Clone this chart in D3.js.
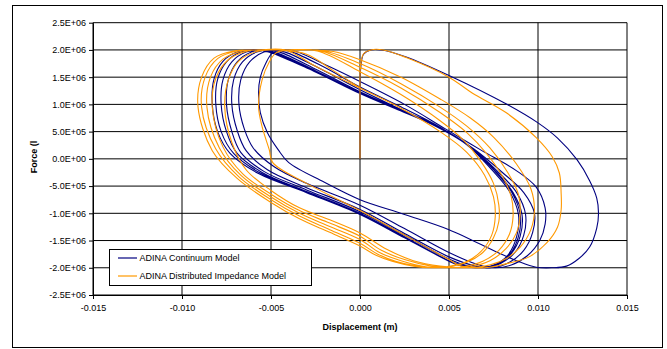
<!DOCTYPE html>
<html>
<head>
<meta charset="utf-8">
<script src="https://cdn.jsdelivr.net/npm/d3@7"></script>
<style>
  html, body { margin: 0; padding: 0; background: #fff; }
  svg { display: block; font-family: "Liberation Sans", Arial, sans-serif; }
</style>
</head>
<body>
<svg id="chart" width="667" height="349"></svg>
<script>
// Axis ticks and labels
const xTicks = [-0.015, -0.010, -0.005, 0.000, 0.005, 0.010, 0.015];
const xTickLabels = ["-0.015", "-0.010", "-0.005", "0.000", "0.005", "0.010", "0.015"];
const yTicks = [-2.5e6, -2.0e6, -1.5e6, -1.0e6, -0.5e6, 0, 0.5e6, 1.0e6, 1.5e6, 2.0e6, 2.5e6];
const yTickLabels = ["-2.5E+06", "-2.0E+06", "-1.5E+06", "-1.0E+06", "-5.0E+05", "0.0E+00",
                     "5.0E+05", "1.0E+06", "1.5E+06", "2.0E+06", "2.5E+06"];

const seriesNames = ["ADINA Continuum Model", "ADINA Distributed Impedance Model"];

// [displacement (m), force (N)]
const continuumModel = [
  [0,0],[0,0.6e6],[0,1.2e6],[0.00005,1.7e6],[0.0002,1.92e6],[0.0006,2.0e6],[0.0012,2.0e6],
  [0.0026,1.87e6],[0.005,1.53e6],[0.0082,1.01e6],[0.0100,0.66e6],[0.0111,0.38e6],[0.0122,-0.02e6],
  [0.0129,-0.40e6],[0.0133,-0.72e6],[0.0134,-1.0e6],[0.0133,-1.27e6],[0.0129,-1.62e6],[0.0123,-1.83e6],
  [0.0116,-1.97e6],[0.0108,-2.0e6],[0.0099,-1.99e6],[0.0088,-1.87e6],[0.0078,-1.73e6],[0.005,-1.30e6],
  [0.0025,-1.02e6],[0,-0.75e6],[-0.002,-0.43e6],[-0.004,-0.07e6],[-0.0046,0.17e6],[-0.0052,0.48e6],
  [-0.0056,0.85e6],[-0.0057,1.2e6],[-0.0056,1.5e6],[-0.0053,1.75e6],[-0.0049,1.95e6],[-0.0043,2.0e6],
  // cycle 2
  [-0.0036,1.97e6],[-0.0017,1.69e6],[0,1.42e6],[0.0025,1.0e6],[0.0048,0.55e6],[0.0068,0.16e6],
  [0.0088,-0.22e6],[0.0099,-0.52e6],[0.0104,-0.9e6],[0.0104,-1.2e6],[0.0101,-1.5e6],[0.0094,-1.78e6],
  [0.0085,-1.95e6],[0.0076,-2.0e6],
  [0.0066,-1.94e6],[0.005,-1.72e6],[0.0025,-1.28e6],[0,-0.85e6],[-0.003,-0.45e6],[-0.0048,-0.15e6],
  [-0.006,0.2e6],[-0.0065,0.55e6],[-0.0068,1.0e6],[-0.0067,1.45e6],[-0.0062,1.78e6],[-0.0054,1.96e6],
  [-0.0045,2.0e6],
  // cycle 3
  [-0.0038,1.96e6],[-0.002,1.68e6],[0,1.32e6],[0.0022,0.97e6],[0.0044,0.6e6],[0.0064,0.18e6],
  [0.008,-0.25e6],[0.0092,-0.62e6],[0.0098,-1.0e6],[0.0097,-1.35e6],[0.0092,-1.68e6],[0.0084,-1.9e6],
  [0.0074,-2.0e6],
  [0.0064,-1.96e6],[0.005,-1.8e6],[0.0025,-1.37e6],[0,-0.93e6],[-0.003,-0.53e6],[-0.0052,-0.2e6],
  [-0.0064,0.15e6],[-0.0069,0.52e6],[-0.0072,1.0e6],[-0.0071,1.45e6],[-0.0066,1.78e6],[-0.0058,1.96e6],
  [-0.0049,2.0e6],
  // cycle 4
  [-0.0042,1.96e6],[-0.0022,1.65e6],[0,1.27e6],[0.0021,0.94e6],[0.0042,0.62e6],[0.0062,0.22e6],
  [0.0077,-0.22e6],[0.0088,-0.62e6],[0.0093,-1.02e6],[0.0092,-1.4e6],[0.0087,-1.72e6],[0.0079,-1.92e6],
  [0.0069,-2.0e6],
  [0.006,-1.96e6],[0.005,-1.84e6],[0.0025,-1.4e6],[0,-0.97e6],[-0.003,-0.57e6],[-0.0054,-0.23e6],
  [-0.0067,0.12e6],[-0.0072,0.5e6],[-0.0075,1.0e6],[-0.0074,1.45e6],[-0.0069,1.78e6],[-0.0061,1.96e6],
  [-0.0052,2.0e6],
  // cycle 5
  [-0.0045,1.96e6],[-0.0024,1.63e6],[0,1.23e6],[0.002,0.94e6],[0.0041,0.64e6],[0.0061,0.25e6],
  [0.0076,-0.22e6],[0.0086,-0.62e6],[0.0091,-1.02e6],[0.009,-1.42e6],[0.0085,-1.74e6],[0.0077,-1.94e6],
  [0.0067,-2.0e6],
  [0.0058,-1.96e6],[0.005,-1.87e6],[0.0025,-1.43e6],[0,-1.0e6],[-0.003,-0.6e6],[-0.0055,-0.25e6],
  [-0.0069,0.1e6],[-0.0075,0.5e6],[-0.0078,1.0e6],[-0.0077,1.45e6],[-0.0072,1.78e6],[-0.0064,1.96e6],
  [-0.0055,2.0e6],
  // cycle 6
  [-0.0048,1.96e6],[-0.0025,1.62e6],[0,1.21e6],[0.002,0.93e6],[0.004,0.65e6],[0.006,0.27e6],
  [0.0075,-0.2e6],[0.0085,-0.6e6],[0.009,-1.02e6],[0.0089,-1.43e6],[0.0084,-1.76e6],[0.0076,-1.95e6],
  [0.0066,-2.0e6],
  [0.0057,-1.96e6],[0.005,-1.87e6],[0.0025,-1.44e6],[0,-1.01e6],[-0.003,-0.61e6],[-0.0056,-0.26e6],
  [-0.0071,0.1e6],[-0.0078,0.5e6],[-0.0081,1.0e6],[-0.008,1.46e6],[-0.0075,1.78e6],[-0.0067,1.96e6],
  [-0.0057,2.0e6],
  // cycle 7
  [-0.005,1.96e6],[-0.0025,1.61e6],[0,1.2e6],[0.002,0.92e6],[0.004,0.64e6],[0.006,0.26e6],
  [0.0074,-0.2e6],[0.0084,-0.6e6],[0.0089,-1.02e6],[0.0088,-1.43e6],[0.0083,-1.77e6],[0.0075,-1.95e6],
  [0.0065,-2.0e6],
  [0.0056,-1.96e6],[0.005,-1.88e6],[0.0025,-1.45e6],[0,-1.02e6],[-0.003,-0.62e6],[-0.0057,-0.27e6],
  [-0.0073,0.1e6],[-0.008,0.5e6],[-0.0083,1.0e6],[-0.0082,1.47e6],[-0.0077,1.79e6],[-0.0069,1.96e6],
  [-0.0059,2.0e6],
  [-0.0051,1.96e6],[-0.0026,1.61e6],[0,1.2e6],[0.002,0.92e6]
];

const impedanceModel = [
  [0,0],[0,0.6e6],[0,1.2e6],[0.00003,1.7e6],[0.0002,1.93e6],[0.0006,2.0e6],[0.0013,2.0e6],
  [0.0026,1.86e6],[0.005,1.5e6],[0.0063,1.21e6],[0.0082,0.85e6],[0.0099,0.39e6],[0.0108,0.04e6],
  [0.0112,-0.26e6],[0.0113,-0.63e6],[0.0113,-0.94e6],[0.0111,-1.25e6],[0.0105,-1.54e6],[0.0095,-1.8e6],
  [0.0084,-1.91e6],[0.0073,-1.99e6],[0.0064,-2.0e6],
  [0.0056,-1.96e6],[0.005,-1.85e6],[0.0025,-1.4e6],[0,-0.95e6],[-0.003,-0.45e6],[-0.0049,-0.07e6],
  [-0.0051,0.17e6],[-0.0055,0.59e6],[-0.0057,0.96e6],[-0.0055,1.45e6],[-0.0051,1.78e6],[-0.0047,1.95e6],
  [-0.004,2.0e6],[-0.003,2.0e6],
  // cycle 2
  [-0.0015,1.97e6],[0,1.82e6],[0.0023,1.5e6],[0.0045,1.1e6],[0.0062,0.75e6],[0.0075,0.4e6],
  [0.0088,-0.1e6],[0.0096,-0.55e6],[0.0098,-0.95e6],[0.0096,-1.3e6],[0.009,-1.62e6],[0.0081,-1.85e6],
  [0.007,-1.97e6],[0.006,-2.0e6],
  [0.0045,-1.97e6],[0.003,-1.87e6],[0.0015,-1.66e6],[0,-1.36e6],[-0.0017,-1.12e6],[-0.0034,-0.9e6],
  [-0.005,-0.58e6],[-0.0064,-0.2e6],[-0.0072,0.3e6],[-0.0076,0.95e6],[-0.0074,1.45e6],[-0.0068,1.8e6],
  [-0.0058,1.97e6],[-0.0048,2.0e6],[-0.0035,2.0e6],
  // cycle 3
  [-0.002,1.98e6],[0,1.75e6],[0.0023,1.38e6],[0.0045,0.95e6],[0.006,0.6e6],[0.0073,0.2e6],
  [0.0083,-0.25e6],[0.0089,-0.65e6],[0.009,-1.0e6],[0.0088,-1.35e6],[0.0082,-1.65e6],[0.0073,-1.87e6],
  [0.0062,-1.98e6],[0.0052,-2.0e6],
  [0.004,-1.97e6],[0.0025,-1.85e6],[0.0012,-1.68e6],[0,-1.42e6],[-0.0017,-1.18e6],[-0.0034,-0.95e6],
  [-0.005,-0.65e6],[-0.0066,-0.27e6],[-0.0077,0.22e6],[-0.0083,0.95e6],[-0.0081,1.48e6],[-0.0074,1.82e6],
  [-0.0063,1.98e6],[-0.0052,2.0e6],[-0.0038,2.0e6],
  // cycle 4
  [-0.0022,1.98e6],[0,1.68e6],[0.0023,1.3e6],[0.0045,0.85e6],[0.006,0.48e6],[0.0071,0.1e6],
  [0.008,-0.32e6],[0.0085,-0.7e6],[0.0086,-1.05e6],[0.0084,-1.38e6],[0.0078,-1.68e6],[0.0069,-1.88e6],
  [0.0058,-1.98e6],[0.0048,-2.0e6],
  [0.0037,-1.98e6],[0.0023,-1.87e6],[0.0011,-1.72e6],[0,-1.48e6],[-0.0017,-1.24e6],[-0.0034,-1.0e6],
  [-0.005,-0.7e6],[-0.0067,-0.3e6],[-0.0079,0.2e6],[-0.0086,0.95e6],[-0.0084,1.5e6],[-0.0077,1.83e6],
  [-0.0066,1.98e6],[-0.0055,2.0e6],[-0.004,2.0e6],
  // cycle 5
  [-0.0024,1.98e6],[0,1.6e6],[0.0023,1.18e6],[0.0045,0.7e6],[0.0058,0.35e6],[0.0068,-0.05e6],
  [0.0075,-0.45e6],[0.0078,-0.85e6],[0.0078,-1.15e6],[0.0075,-1.45e6],[0.0069,-1.72e6],[0.006,-1.9e6],
  [0.005,-1.98e6],[0.0041,-2.0e6],
  [0.0032,-1.97e6],[0.002,-1.88e6],[0.001,-1.75e6],[0,-1.55e6],[-0.0017,-1.3e6],[-0.0034,-1.05e6],
  [-0.005,-0.75e6],[-0.0068,-0.33e6],[-0.0081,0.18e6],[-0.0089,0.95e6],[-0.0087,1.5e6],[-0.008,1.84e6],
  [-0.0069,1.98e6],[-0.0057,2.0e6],[-0.0042,2.0e6],
  // cycle 6
  [-0.0025,1.7e6],[0,1.3e6],[0.0023,0.93e6],[0.0045,0.5e6],[0.006,0.12e6],[0.007,-0.3e6],
  [0.0075,-0.7e6],[0.0076,-1.05e6],[0.0074,-1.4e6],[0.0068,-1.7e6],[0.0059,-1.9e6],[0.0049,-1.98e6],
  [0.004,-2.0e6],
  [0.003,-1.97e6],[0.0018,-1.88e6],[0.0009,-1.77e6],[0,-1.6e6],[-0.0017,-1.35e6],[-0.0034,-1.1e6],
  [-0.005,-0.8e6],[-0.0069,-0.36e6],[-0.0083,0.15e6],[-0.0091,0.95e6],[-0.0089,1.5e6],[-0.0082,1.85e6],
  [-0.0071,1.98e6],[-0.0059,2.0e6],[-0.0045,2.0e6],
  [-0.003,1.92e6],[-0.0015,1.62e6],[0,1.3e6]
];

const seriesData = [continuumModel, impedanceModel];
const seriesColors = ["#000080", "#FF9900"];

const svg = d3.select("#chart");

// chart frame
svg.append("rect")
  .attr("x", 12.5).attr("y", 5.5)
  .attr("width", 650).attr("height", 342)
  .attr("fill", "#fff").attr("stroke", "#000").attr("stroke-width", 1);

const plot = { left: 93, right: 627, top: 22.7, bottom: 295 };

const x = d3.scaleLinear().domain([-0.015, 0.015]).range([plot.left, plot.right]);
const y = d3.scaleLinear().domain([-2.5e6, 2.5e6]).range([plot.bottom, plot.top]);

// gridlines
const grid = svg.append("g").attr("stroke", "#000").attr("stroke-width", 1);
grid.selectAll("line.h").data(yTicks).join("line")
  .attr("class", "h")
  .attr("x1", plot.left).attr("x2", plot.right)
  .attr("y1", d => y(d)).attr("y2", d => y(d));
grid.selectAll("line.v").data(xTicks).join("line")
  .attr("class", "v")
  .attr("x1", d => x(d)).attr("x2", d => x(d))
  .attr("y1", plot.top).attr("y2", plot.bottom);

// axes
const xAxis = d3.axisBottom(x).tickValues(xTicks)
  .tickFormat((d, i) => xTickLabels[i]).tickSize(4).tickSizeOuter(0).tickPadding(6);
const yAxis = d3.axisLeft(y).tickValues(yTicks)
  .tickFormat((d, i) => yTickLabels[i]).tickSize(4).tickSizeOuter(0).tickPadding(3);

const gx = svg.append("g").attr("transform", `translate(0,${plot.bottom})`).call(xAxis);
const gy = svg.append("g").attr("transform", `translate(${plot.left},0)`).call(yAxis);
[gx, gy].forEach(g => {
  g.select(".domain").attr("stroke", "#000");
  g.selectAll(".tick line").attr("stroke", "#000");
  g.selectAll(".tick text").attr("fill", "#000")
    .style("font-size", "9px").style("font-family", '"Liberation Sans", Arial, sans-serif');
});

// series
const line = d3.line()
  .x(d => x(d[0]))
  .y(d => y(d[1]))
  .curve(d3.curveCatmullRom.alpha(0.5));

svg.append("g").selectAll("path.series").data(seriesData).join("path")
  .attr("class", "series")
  .attr("d", d => line(d))
  .attr("fill", "none")
  .attr("stroke", (d, i) => seriesColors[i])
  .attr("stroke-width", 1.1)
  .attr("stroke-linejoin", "round");

// axis titles
svg.append("text")
  .attr("x", (plot.left + plot.right) / 2).attr("y", 330)
  .attr("text-anchor", "middle")
  .style("font-size", "9px").style("font-weight", "bold")
  .text("Displacement (m)");

svg.append("text")
  .attr("transform", "translate(37,157) rotate(-90)")
  .attr("text-anchor", "middle")
  .style("font-size", "9px").style("font-weight", "bold")
  .text("Force (l");

// legend
const legend = svg.append("g").attr("transform", "translate(109.5,249.5)");
legend.append("rect")
  .attr("width", 202).attr("height", 36)
  .attr("fill", "#fff").attr("stroke", "#000").attr("stroke-width", 1);
const items = legend.selectAll("g.item").data(seriesNames).join("g")
  .attr("class", "item")
  .attr("transform", (d, i) => `translate(0,${8.5 + i * 18})`);
items.append("line")
  .attr("x1", 8.5).attr("x2", 27.5).attr("y1", 0).attr("y2", 0)
  .attr("stroke", (d, i) => seriesColors[i]).attr("stroke-width", 1.2);
items.append("text")
  .attr("x", 30).attr("y", 0).attr("dy", "0.35em")
  .style("font-size", "9px")
  .text(d => d);
</script>
</body>
</html>
